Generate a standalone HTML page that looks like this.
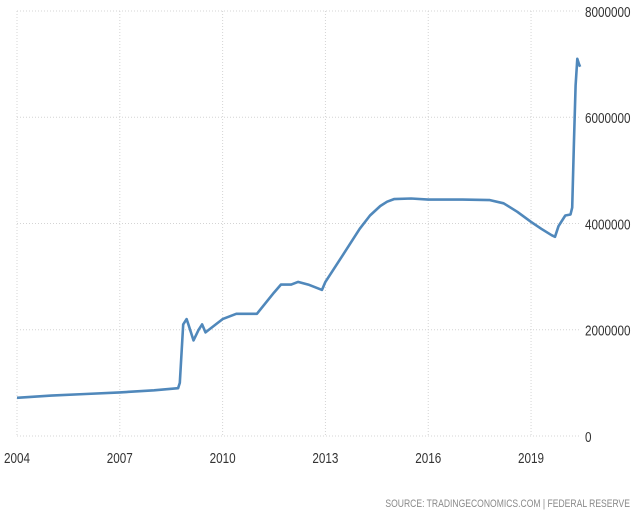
<!DOCTYPE html>
<html><head><meta charset="utf-8"><style>
body{margin:0;background:#fff;width:636px;height:515px;overflow:hidden}
svg{display:block;font-family:"Liberation Sans",sans-serif}
</style></head><body>
<svg id="c" width="636" height="515">
<g id="grid"></g>
<g id="axes"></g>
<path id="line" fill="none" stroke="#5088bb" stroke-width="2.6" stroke-linejoin="round"></path>
<text x="630" y="507" text-anchor="end" font-size="11" fill="#8a8a8a" transform="translate(630,507) scale(0.78,1) translate(-630,-507)">SOURCE:  TRADINGECONOMICS.COM  |  FEDERAL  RESERVE</text>
</svg>
<script>
const years=[2004,2005,2006,2007,2008,2008.7,2008.75,2008.85,2008.95,2009.0,2009.15,2009.3,2009.4,2009.5,2009.8,2010,2010.4,2011,2011.5,2011.7,2012,2012.2,2012.5,2012.9,2013,2013.5,2014,2014.3,2014.6,2014.8,2015,2015.5,2016,2017,2017.8,2018.2,2018.6,2019,2019.3,2019.6,2019.7,2019.8,2020.0,2020.15,2020.2,2020.25,2020.3,2020.35,2020.4,2020.43];
const valuesM=[0.72,0.76,0.79,0.82,0.86,0.9,1.0,2.1,2.2,2.1,1.8,2.0,2.1,1.95,2.1,2.2,2.3,2.3,2.7,2.85,2.85,2.9,2.85,2.75,2.9,3.4,3.9,4.15,4.33,4.41,4.46,4.47,4.45,4.45,4.44,4.38,4.22,4.03,3.9,3.78,3.75,3.95,4.15,4.17,4.3,5.5,6.6,7.1,7.0,6.95];
const xTicks=[2004,2007,2010,2013,2016,2019];
const yTicks=[0,2000000,4000000,6000000,8000000];
const xS=y=>17+(y-2004)*34.27;
const yS=v=>436-v/8000000*425;
const NS="http://www.w3.org/2000/svg";
const grid=document.getElementById('grid'),axes=document.getElementById('axes');
function mk(tag,attrs,parent){const e=document.createElementNS(NS,tag);for(const k in attrs)e.setAttribute(k,attrs[k]);parent.appendChild(e);return e;}
yTicks.forEach(v=>{
  const l=mk('line',{x1:17,x2:580,y1:yS(v),y2:yS(v),stroke:'#d4d4d4','stroke-dasharray':'1,2'},grid);
  
  
  const t=mk('text',{x:585,y:yS(v)+6,'font-size':15,fill:'#333',transform:`translate(585,0) scale(0.78,1) translate(-585,0)`},axes);
  t.textContent=v;
  
  
});
xTicks.forEach(y=>{
  const l=mk('line',{x1:xS(y),x2:xS(y),y1:11,y2:436,stroke:'#d4d4d4','stroke-dasharray':'1,2'},grid);
  
  
  const t=mk('text',{x:xS(y),y:463,'font-size':15,fill:'#333','text-anchor':'middle',transform:`translate(${xS(y)},0) scale(0.78,1) translate(${-xS(y)},0)`},axes);
  t.textContent=y;
  
  
});
document.getElementById('line').setAttribute('d',years.map((y,i)=>(i?'L':'M')+xS(y).toFixed(1)+','+yS(valuesM[i]*1e6).toFixed(1)).join(''));
</script>
</body></html>
